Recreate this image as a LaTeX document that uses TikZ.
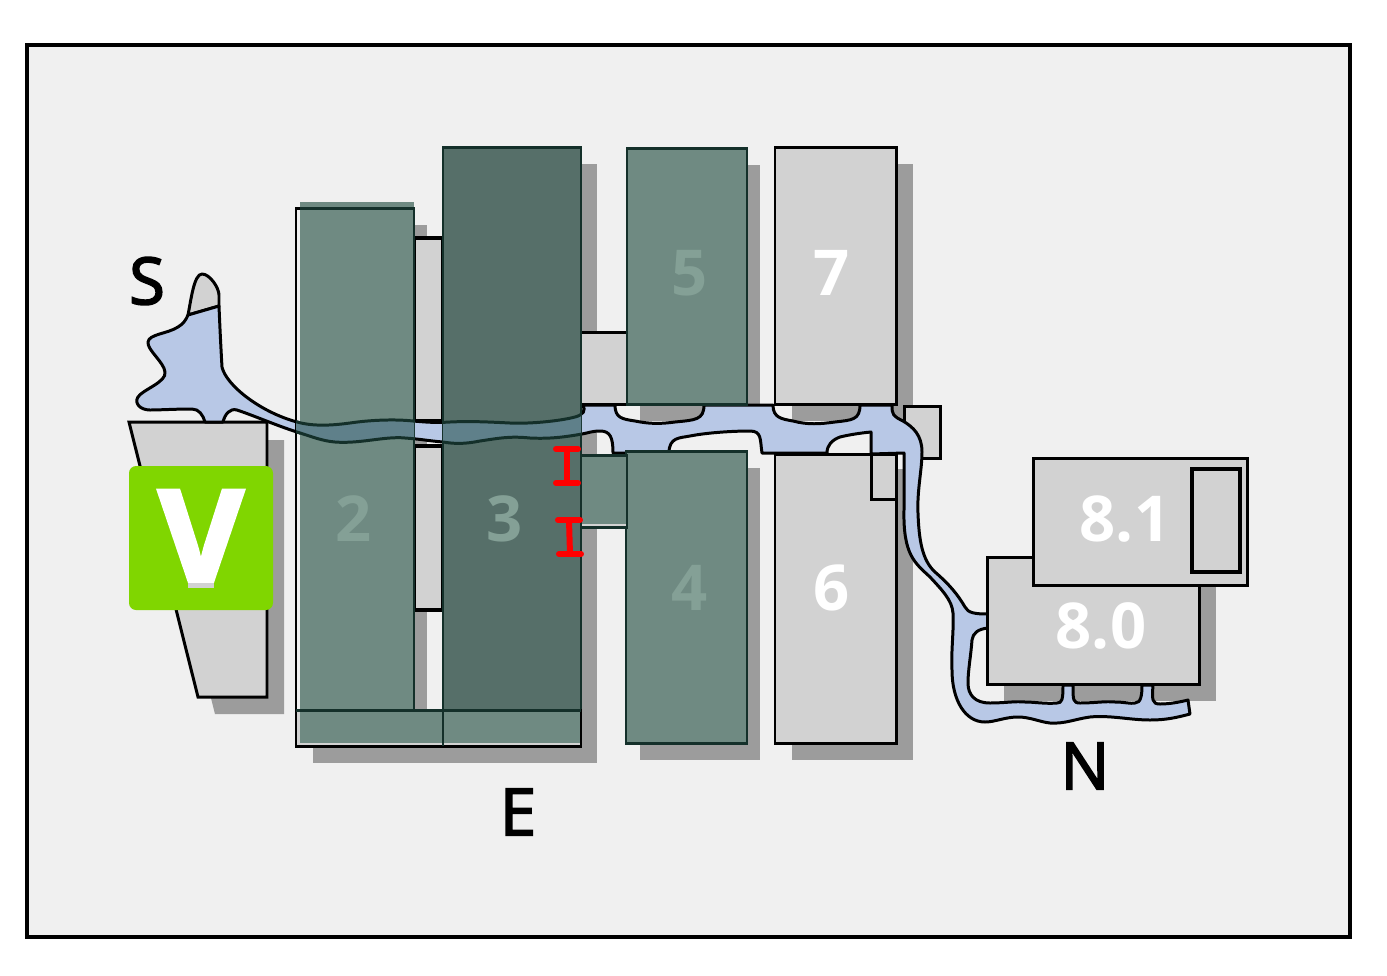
\documentclass[tikz,border=0pt]{standalone}
\usepackage{fontspec}
\setmainfont{Open Sans}
\newfontfamily\wingfont[FakeBold=2.6]{Open Sans}
\newfontfamily\badgefont[UprightFont=* Bold, FakeBold=3]{Open Sans}

\definecolor{floorcol}{HTML}{F0F0F0}
\definecolor{roomcol}{HTML}{D2D2D2}
\definecolor{shadowcol}{HTML}{9C9C9C}
\definecolor{greencol}{HTML}{6F8A82}
\definecolor{darkcol}{HTML}{566F69}
\definecolor{wallcol}{HTML}{14302A}
\definecolor{corridorcol}{HTML}{B8C8E6}
\definecolor{crosscol}{HTML}{5F808A}
\definecolor{marklabel}{HTML}{84A096}
\definecolor{badgecol}{HTML}{80D600}

\tikzset{
	room/.style={fill=roomcol, draw=black, line width=0.85pt},
	greenroom/.style={fill=greencol, draw=wallcol, line width=0.85pt},
	darkroom/.style={fill=darkcol, draw=wallcol, line width=0.85pt},
	corridor/.style={fill=corridorcol, draw=black, line width=0.85pt, line join=round},
	crossing/.style={fill=crosscol, draw=wallcol, line width=0.85pt, line join=round},
	wall/.style={draw=black, line width=0.85pt},
	beam/.style={draw=red, line width=1.7pt, line cap=round},
	numlabel/.style={font=\fontsize{18}{18}\selectfont\bfseries, text=white},
	greenlabel/.style={numlabel, text=marklabel},
	wing/.style={font=\fontsize{18.5}{18.5}\selectfont\wingfont, text=black},
}

% outline of the corridor, in reference pixels
\newcommand{\corridorpath}{
	(219,306) .. controls (220,330) and (221,350) .. (222,367)
	.. controls (226,385) and (260,412) .. (297,422)
	.. controls (315,427) and (335,425) .. (350,423)
	.. controls (370,420) and (395,419) .. (413,421)
	.. controls (425,422) and (435,423) .. (450,422)
	.. controls (470,421) and (490,422) .. (510,423)
	.. controls (530,424) and (560,421) .. (575,417)
	.. controls (583,415) and (587,410) .. (582,405)
	-- (615,405)
	.. controls (615,418) and (622,419) .. (635,421)
	.. controls (650,424) and (660,424) .. (675,422)
	.. controls (695,420) and (704,420) .. (704,405)
	-- (773,405)
	.. controls (773,418) and (782,419) .. (793,421)
	.. controls (808,425) and (820,424) .. (835,422)
	.. controls (852,420) and (860,420) .. (860,405)
	-- (892,405)
	.. controls (892,415) and (893,416) .. (903,421)
	.. controls (913,427) and (922,435) .. (922,452)
	.. controls (922,470) and (917,490) .. (918,513)
	.. controls (919,540) and (922,560) .. (935,572)
	.. controls (950,585) and (958,595) .. (965,607)
	.. controls (968,613) and (975,614) .. (988,614)
	-- (988,628)
	.. controls (978,629) and (973,633) .. (972,640)
	.. controls (971,655) and (968,670) .. (968,683)
	.. controls (968,695) and (975,703) .. (990,703)
	.. controls (1005,703) and (1015,701) .. (1025,702)
	.. controls (1035,702) and (1045,704) .. (1057,703)
	.. controls (1062,703) and (1063,700) .. (1063,685)
	-- (1073,685)
	.. controls (1073,700) and (1073,703) .. (1080,703)
	.. controls (1095,703) and (1105,701) .. (1115,702)
	.. controls (1125,702) and (1130,704) .. (1135,703)
	.. controls (1141,703) and (1142,695) .. (1142,685)
	-- (1153,685)
	.. controls (1152,700) and (1152,704) .. (1160,704)
	.. controls (1170,704) and (1180,702) .. (1188,700)
	-- (1190,714)
	.. controls (1175,718) and (1165,720) .. (1150,720)
	.. controls (1130,720) and (1110,715) .. (1090,717)
	.. controls (1075,719) and (1065,724) .. (1050,723)
	.. controls (1040,722) and (1030,717) .. (1018,717)
	.. controls (1005,717) and (995,722) .. (985,722)
	.. controls (965,722) and (952,700) .. (952,670)
	.. controls (951,650) and (954,630) .. (953,613)
	.. controls (952,600) and (942,590) .. (930,577)
	.. controls (915,563) and (903,555) .. (904,510)
	.. controls (904,490) and (904,470) .. (904,453)
	-- (871,454) -- (871,432)
	.. controls (860,433) and (848,435) .. (840,437)
	.. controls (832,440) and (827,445) .. (827,453)
	-- (762,453)
	.. controls (760,440) and (762,431) .. (750,431)
	.. controls (730,431) and (705,433) .. (690,436)
	.. controls (680,438) and (669,437) .. (669,453)
	-- (613,453)
	.. controls (613,437) and (610,431) .. (600,431)
	.. controls (592,431) and (588,433) .. (582,434)
	.. controls (565,437) and (550,439) .. (530,438)
	.. controls (510,436) and (500,438) .. (480,441)
	.. controls (465,444) and (455,444) .. (443,442)
	.. controls (430,441) and (420,439) .. (405,438)
	.. controls (385,436) and (360,444) .. (335,442)
	.. controls (322,441) and (310,436) .. (297,432)
	.. controls (275,425) and (255,416) .. (237,410)
	.. controls (230,408) and (225,414) .. (223,422)
	-- (205,422)
	.. controls (203,415) and (199,409) .. (192,409)
	.. controls (175,409) and (160,410) .. (150,410)
	.. controls (140,410) and (134,403) .. (138,397)
	.. controls (142,390) and (167,382) .. (165,372)
	.. controls (164,362) and (147,350) .. (148,342)
	.. controls (149,334) and (167,334) .. (178,327)
	.. controls (183,324) and (186,320) .. (188,315)
	-- cycle
}

\begin{document}
\begin{tikzpicture}[x=0.01cm, y=-0.01cm]
	\useasboundingbox (0,0) rectangle (1387,975);
	\fill[white] (0,0) rectangle (1387,975);
	\draw[fill=floorcol, draw=black, line width=1.3pt] (27,45) rectangle (1350,937);

	% shadows
	\fill[shadowcol] (146,440) -- (284,440) -- (284,714) -- (215,714) -- cycle;
	\foreach \ax/\ay/\bx/\by in {313/225/427/727, 460/164/597/727, 313/727/597/763, 640/165/760/421, 792/164/913/421, 640/468/760/760, 792/469/913/760, 1004/574/1216/701}
		\fill[shadowcol] (\ax,\ay) rectangle (\bx,\by);

	% small rooms under the corridor
	\foreach \ax/\ay/\bx/\by in {414/238/443/421, 414/446/443/610}
		\draw[room, line width=1.1pt] (\ax,\ay) rectangle (\bx,\by);
	\foreach \ax/\ay/\bx/\by in {581/332/627/404, 904/406/940/458}
		\draw[room] (\ax,\ay) rectangle (\bx,\by);
	\draw[room] (129,422) -- (267,422) -- (267,697) -- (198,697) -- cycle;

	% tip of the corridor
	\draw[room, line join=round] (188,315) .. controls (191,300) and (194,274) .. (202,274) .. controls (210,274) and (219,288) .. (219,295) -- (219,306) -- cycle;
	\draw[corridor] \corridorpath;

	% light wings
	\draw[room] (775,147) rectangle (896,404);
	\draw[room] (775,454) rectangle (896,743);
	\draw[room] (871,454) rectangle (896,499);
	\draw[room] (987,557) rectangle (1199,684);
	\draw[room] (1033,458) rectangle (1247,585);
	\draw[room, line width=1pt] (1192,469) rectangle (1240,572);

	% green wings, fill set slightly off the outline
	\draw[greenroom] (627,148) rectangle (747,404);
	\draw[greenroom] (626,451) rectangle (747,743);
	\fill[greencol] (300,202) rectangle (414,710);
	\draw[wall] (296,208) rectangle (414,710);
	\draw[wallcol, line width=0.85pt] (300,208) -- (414,208) -- (414,710);
	\draw[darkroom] (443,147) rectangle (581,710);
	\fill[roomcol] (296,710) rectangle (581,746);
	\fill[greencol] (300,710) rectangle (581,743);
	\draw[wall] (296,710) rectangle (581,746);
	\draw[wallcol, line width=0.85pt] (296,710) -- (581,710) (443,710) -- (443,746);
	\fill[roomcol] (581,455) rectangle (627,527);
	\fill[greencol] (581,455) rectangle (627,524);
	\draw[wallcol, line width=0.85pt] (581,455) rectangle (627,527);

	% corridor seen through wings 2 and 3
	\begin{scope}
		\clip (296,147) rectangle (414,710) (443,147) rectangle (581,710);
		\draw[crossing] \corridorpath;
	\end{scope}

	% labels
	\node[greenlabel] (two) at (354,519) {2};
	\node[greenlabel] (three) at (505,519) {3};
	\node[greenlabel] (four) at (690,588) {4};
	\node[greenlabel] (five) at (690,273) {5};
	\node[numlabel] (six) at (832,588) {6};
	\node[numlabel] (seven) at (832,273) {7};
	\node[numlabel] (eightzero) at (1101,626) {8.0};
	\node[numlabel] (eightone) at (1125,519) {8.1};
	\node[wing] (south) at (147,281) {S};
	\node[wing] (east) at (518,812) {E};
	\node[wing] (north) at (1085,766) {N};

	% red marks
	\foreach \ax/\ay/\bx/\by in {567/449/567/483, 569/520/570/554} {
		\draw[beam] (\ax,\ay) -- (\bx,\by);
		\draw[beam] (\ax-11,\ay) -- (\ax+11,\ay);
		\draw[beam] (\bx-11,\by) -- (\bx+11,\by);
	}

	% badge
	\fill[badgecol, rounded corners=2pt] (129,466) rectangle (273,610);
	\node[font=\fontsize{37}{37}\selectfont\badgefont, text=white] (badge) at (201,537) {V};
	\fill[roomcol] (188,583) rectangle (214,587.5);
\end{tikzpicture}
\end{document}
